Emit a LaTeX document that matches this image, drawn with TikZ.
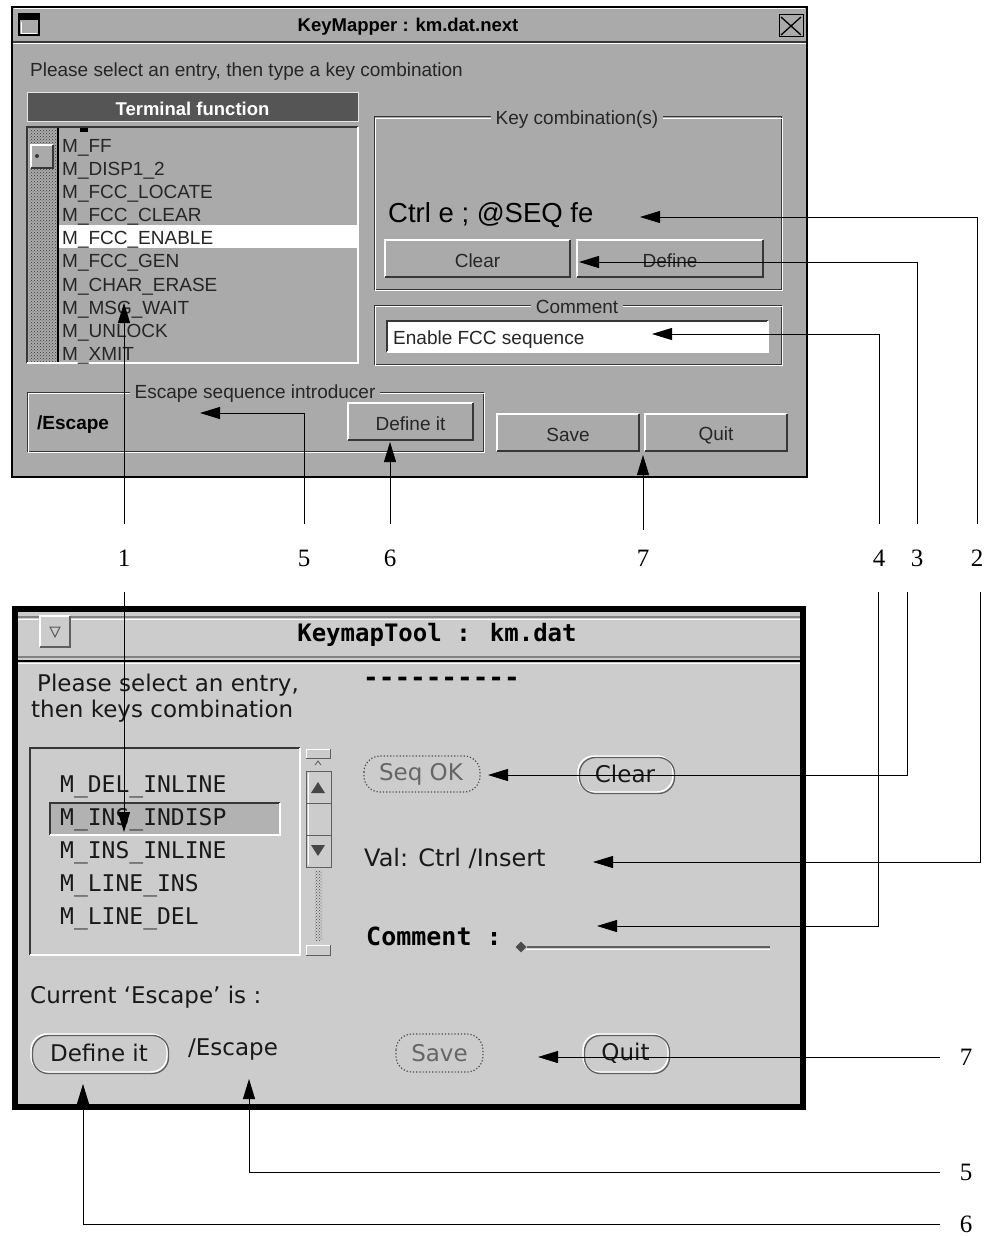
\documentclass[tikz,border=0pt]{standalone}
\usepackage{fontspec}
\setmainfont{Liberation Serif}
\newfontfamily\hv{Liberation Sans}
\newfontfamily\dv{DejaVu Sans}
\newfontfamily\dvm{DejaVu Sans Mono}
\usetikzlibrary{arrows.meta,patterns,shapes.geometric}
\definecolor{gA}{RGB}{170,170,170}
\definecolor{gB}{RGB}{204,204,204}
\definecolor{gDark}{RGB}{85,85,85}
\definecolor{gShadow}{RGB}{55,55,55}
\definecolor{gMid}{RGB}{130,130,130}
\definecolor{gH}{RGB}{178,178,178}
\newcommand\myupbox[4]{%
  \fill[gA] (#1,#2) rectangle (#3,#4);
  \draw[white,line width=1.5pt] (#1,#4) -- (#1,#2) -- (#3,#2);
  \draw[gShadow,line width=2pt] (#3,#2) -- (#3,#4) -- (#1,#4);}
\newcommand\myetch[4]{%
  \draw[gShadow,line width=1pt] (#1,#2) rectangle (#3,#4);
  \draw[white,line width=1pt] (#1+1.5,#2+1.5) rectangle (#3+1.5,#4+1.5);}
\newcommand\mysunk[4]{%
  \draw[gShadow,line width=1.5pt] (#1,#4) -- (#1,#2) -- (#3,#2);
  \draw[white,line width=1.5pt] (#3,#2) -- (#3,#4) -- (#1,#4);}
\newcommand\myround[4]{%
  \draw[white,line width=1.5pt,rounded corners=16pt] (#1,#2) rectangle (#3,#4);
  \draw[gShadow!80,line width=1.3pt,rounded corners=16pt] (#1+1.5,#2+1.5) rectangle (#3+1.5,#4+1.5);}
\newcommand\mydotround[4]{%
  \draw[gray!60!black,line width=1.2pt,dotted,rounded corners=16pt] (#1,#2) rectangle (#3,#4);}
\begin{document}
\begin{tikzpicture}[x=1pt,y=-1pt,
  tt/.style={font=\hv\fontsize{19}{19}\selectfont,text=black!85,inner sep=0pt,yshift=-2.5pt},
  ttw/.style={tt,anchor=west},
  tbold/.style={font=\hv\bfseries\fontsize{18.5}{19}\selectfont,inner sep=0pt,yshift=-2.5pt},
  lgd/.style={tt,fill=gA,inner xsep=5pt,inner ysep=2pt},
  bt/.style={font=\dv\fontsize{23}{23}\selectfont,text=black!90,inner sep=0pt},
  btw/.style={bt,anchor=west},
  bitem/.style={font=\dvm\fontsize{23}{23}\selectfont,text=black!90,inner sep=0pt,anchor=west},
  bbold/.style={font=\dvm\bfseries\fontsize{24}{24}\selectfont,inner sep=0pt},
  grey/.style={bt,text=gray!80!black},
  numlbl/.style={font=\fontsize{25}{25}\selectfont,minimum height=68pt,inner sep=0pt},
  numr/.style={font=\fontsize{25}{25}\selectfont,inner xsep=20pt,inner ysep=0pt},
  conn/.style={draw=black,line width=0.9pt,-{Triangle[length=20pt,width=12pt]}}]
\useasboundingbox (0,0) rectangle (996,1236);
\fill[white] (0,0) rectangle (996,1236);

% ================= top window (KeyMapper) =================
\fill[gA] (12,7) rectangle (807,477);
\draw[white,line width=1pt] (14,9) -- (805,9);
\draw[gShadow,line width=1.5pt] (12,42) -- (807,42);
\draw[white,line width=1pt] (12,44) -- (807,44);
\draw[black,line width=1.5pt] (12,7) rectangle (807,477);
% title bar icons
\draw[black,line width=1.5pt,fill=gA] (19,14) rectangle (39,35);
\fill[black] (19,14) rectangle (39,20);
\draw[white,line width=0.8pt] (21,22) -- (21,33) -- (37,33);
\draw[black,line width=1pt,fill=gA] (779,15) rectangle (803,37);
\draw[black,line width=1.3pt] (781,17) -- (801,35) (801,17) -- (781,35);
\node[tbold] (title1) at (408,24) {KeyMapper : km.dat.next};
\node[ttw] (prompt1) at (30,69) {Please select an entry, then type a key combination};
% list header
\fill[gDark] (27,93) rectangle (358,122);
\draw[white!80!gray,line width=1pt] (27,93) rectangle (358,122);
\node[tbold,text=white] (hdr) at (192.5,106) {Terminal function};
% list box
\fill[gA] (27,127) rectangle (358,363);
\fill[pattern=crosshatch dots,pattern color=gShadow] (29,129) rectangle (57,362);
\draw[black,line width=1.5pt] (58,128) -- (58,362);
\mysunk{27}{127}{358}{363}
\myupbox{31}{145}{53}{168}
\fill[gShadow] (37,156) circle (2pt);
\fill[black] (80,128) rectangle (88,132);
\fill[white] (59,225) rectangle (357,248);
\node[ttw] (i1) at (62,145) {M\_FF};
\node[ttw] (i2) at (62,168) {M\_DISP1\_2};
\node[ttw] (i3) at (62,191) {M\_FCC\_LOCATE};
\node[ttw] (i4) at (62,214) {M\_FCC\_CLEAR};
\node[ttw] (i5) at (62,237) {M\_FCC\_ENABLE};
\node[ttw] (i6) at (62,260) {M\_FCC\_GEN};
\node[ttw] (i7) at (62,284) {M\_CHAR\_ERASE};
\node[ttw] (i8) at (62,307) {M\_MSG\_WAIT};
\node[ttw] (i9) at (62,330) {M\_UNLOCK};
\node[ttw] (i10) at (62,353) {M\_XMIT};
% key combination frame
\myetch{374}{117}{781}{289}
\node[lgd] (kclbl) at (577,117) {Key combination(s)};
\node[ttw,font=\hv\fontsize{27.5}{28}\selectfont,text=black] (kc) at (388,213) {Ctrl e ; @SEQ fe};
\myupbox{385}{240}{570}{277}
\node[tt] (clear1) at (477.5,258.5) {Clear};
\myupbox{577}{240}{763}{277}
\node[tt] (define1) at (670,258.5) {Define};
% comment frame
\myetch{374}{305}{781}{364}
\node[lgd] (cmlbl) at (577,304) {Comment};
\fill[white] (387,321) rectangle (768,352);
\mysunk{387}{321}{768}{352}
\node[ttw] (cmtext) at (393,337) {Enable FCC sequence};
% escape frame
\myetch{27}{392}{483}{451}
\node[lgd] (esclbl) at (255,391) {Escape sequence introducer};
\node[tbold,anchor=west,font=\hv\bfseries\fontsize{19}{19}\selectfont] (esc1) at (37,422) {/Escape};
\myupbox{348}{403}{473}{440}
\node[tt] (defit1) at (410.5,421.5) {Define it};
\myupbox{497}{414}{639}{451}
\node[tt] (save1) at (568,432.5) {Save};
\myupbox{645}{414}{787}{451}
\node[tt] (quit1) at (716,432.5) {Quit};

% ================= bottom window (KeymapTool) =================
\fill[gB] (12,606) rectangle (806,1110);
\draw[gMid,line width=1.2pt] (18,617) -- (800,617);
\draw[white,line width=1pt] (18,619) -- (800,619);
\draw[gMid,line width=1.2pt] (18,657) -- (800,657);
\draw[black,line width=1.5pt] (18,661) -- (800,661);
\draw[white,line width=1pt] (18,663) -- (800,663);
\fill[gB] (40,616) rectangle (70,647);
\draw[white,line width=1.5pt] (40,647) -- (40,616) -- (70,616);
\draw[gShadow!80,line width=1.5pt] (70,616) -- (70,647) -- (40,647);
\draw[gray!70!black,line width=1pt] (50,627) -- (60,627) -- (55,637) -- cycle;
\draw[black,line width=6pt] (15,609) rectangle (803,1107);
\node[bbold] (title2) at (437,635) {KeymapTool : km.dat};
\node[btw] (prompt2a) at (37,685) {Please select an entry,};
\node[btw] (prompt2b) at (31,711) {then keys combination};
\node[bbold,anchor=west,font=\dvm\bfseries\fontsize{26}{26}\selectfont] (dashes) at (363,682) {----------};
% list box
\mysunk{30}{748}{300}{955}
\fill[gH] (50,803) rectangle (280,835);
\mysunk{50}{803}{280}{835}
\node[bitem] (j1) at (60,787) {M\_DEL\_INLINE};
\node[bitem] (j2) at (60,820) {M\_INS\_INDISP};
\node[bitem] (j3) at (60,853) {M\_INS\_INLINE};
\node[bitem] (j4) at (60,886) {M\_LINE\_INS};
\node[bitem] (j5) at (60,919) {M\_LINE\_DEL};
% scrollbar
\draw[white,line width=1pt] (306,758) -- (306,749) -- (330,749);
\draw[gShadow!80,line width=1pt] (330,749) -- (330,758) -- (306,758);
\draw[gray!70!black,line width=0.8pt] (315,765) -- (318,761) -- (321,765);
\draw[gShadow!80,line width=1pt] (306,771) rectangle (331,867);
\draw[white,line width=1pt] (308,773) -- (308,865);
\draw[gShadow!80,line width=1pt] (306,803) -- (331,803) (306,835) -- (331,835);
\fill[gray!55!black] (311,793) -- (325,793) -- (318,782) -- cycle;
\fill[gray!55!black] (311,845) -- (325,845) -- (318,856) -- cycle;
\fill[pattern=crosshatch dots,pattern color=gray!60!black] (315,870) rectangle (322,940);
\draw[white,line width=1pt] (306,955) -- (306,945) -- (330,945);
\draw[gShadow!80,line width=1pt] (330,945) -- (330,955) -- (306,955);
% buttons and fields
\mydotround{364}{756}{480}{792}
\node[grey] (seqok) at (421,774) {Seq OK};
\myround{578}{756}{673}{792}
\node[bt] (clear2) at (625,774) {Clear};
\node[btw,font=\dv\fontsize{24}{24}\selectfont] (val) at (364,858) {Val: Ctrl /Insert};
\node[bbold,anchor=west,font=\dvm\bfseries\fontsize{25}{25}\selectfont] (cm2) at (366,936) {Comment :};
\node[diamond,fill=gray!60!black,minimum size=11pt,inner sep=0pt] (dia) at (521,947) {};
\draw[gShadow!80,line width=1.2pt] (dia.east) -- (770,947);
\draw[white,line width=1pt] (526,949.5) -- (770,949.5);
\node[btw] (cur) at (30,997) {Current ‘Escape’ is :};
\myround{31}{1034}{167}{1072}
\node[bt] (defit2) at (99,1053) {Define it};
\node[btw] (esc2) at (188,1049) {/Escape};
\mydotround{396}{1034}{483}{1072}
\node[grey] (save2) at (439.5,1053) {Save};
\myround{583}{1034}{668}{1072}
\node[bt] (quit2) at (625.5,1053) {Quit};

% ================= callout numbers =================
\node[numlbl] (n1) at (124,558) {1};
\node[numlbl] (n5) at (304,558) {5};
\node[numlbl] (n6) at (390,558) {6};
\node[numlbl] (n7) at (643,558) {7};
\node[numlbl] (n4) at (879,558) {4};
\node[numlbl] (n3) at (917,558) {3};
\node[numlbl] (n2) at (977,558) {2};
\node[numr] (r7) at (966,1057) {7};
\node[numr] (r5) at (966,1172) {5};
\node[numr] (r6) at (966,1224) {6};

% arrow tips
\coordinate (a1) at (124,303);
\coordinate (a5) at (200,413);
\coordinate (a6) at (390,442);
\coordinate (a7) at (643,455);
\coordinate (a4) at (652,334);
\coordinate (a3) at (579,262);
\coordinate (a2) at (640,217);
\coordinate (b1) at (124,832);
\coordinate (b3) at (488,775);
\coordinate (b2) at (593,862);
\coordinate (b4) at (597,926);
\coordinate (b7) at (538,1057);
\coordinate (b5) at (249,1079);
\coordinate (b6) at (83,1084);

% ================= connectors =================
\draw[conn] (n1.north) -- (a1);
\draw[conn] (n5.north) |- (a5);
\draw[conn] (n6.north) -- (a6);
\draw[conn] ([yshift=-6pt]n7.north) -- (a7);
\draw[conn] (n4.north) |- (a4);
\draw[conn] (n3.north) |- (a3);
\draw[conn] (n2.north) |- (a2);
\draw[conn] (n1.south) -- (b1);
\draw[conn] ([xshift=-10pt]n3.south) |- (b3);
\draw[conn] ([xshift=3pt]n2.south) |- (b2);
\draw[conn] ([xshift=-1pt]n4.south) |- (b4);
\draw[conn] (r7.west) -- (b7);
\draw[conn] (r5.west) -| (b5);
\draw[conn] (r6.west) -| (b6);
\end{tikzpicture}
\end{document}
